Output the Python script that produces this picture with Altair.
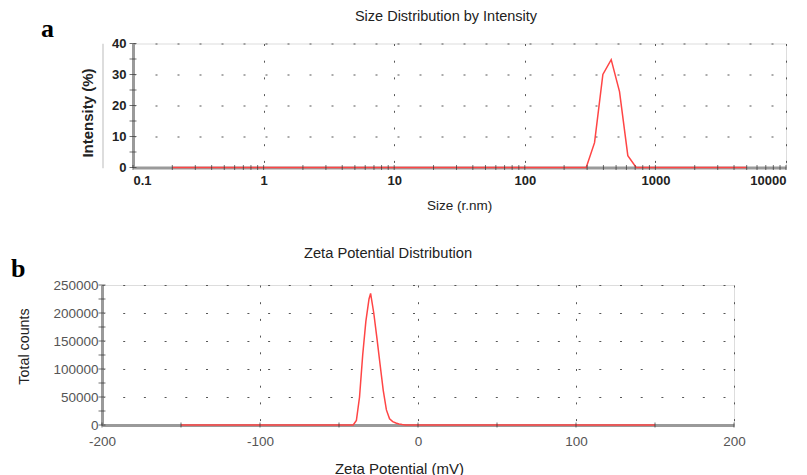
import altair as alt
import pandas as pd

# ---------------- Panel a: size distribution by intensity ----------------
size_nm = [0.2, 295.3, 342.0, 396.1, 458.7, 531.2, 615.1, 712.4, 5000]
intensity_pct = [0, 0, 8.0, 30.0, 34.8, 24.5, 3.8, 0, 0]
size_ticks = [0.1, 1, 10, 100, 1000, 10000]
size_decades = [0.1, 1, 10, 100, 1000]
size_minor_mult = [2, 3, 4, 5, 6, 7, 8, 9]
intensity_ticks = [0, 10, 20, 30, 40]
intensity_minor = [5, 15, 25, 35]

# ---------------- Panel b: zeta potential distribution ----------------
zeta_mv = [-150, -41, -39, -37, -35, -33, -31, -30, -28, -26, -24, -22,
           -20, -18, -16, -14, -12, -10, -8, 150]
total_counts = [0, 0, 8000, 50000, 125000, 185000, 225000, 235000, 200000,
                155000, 108000, 62000, 27000, 11000, 6000, 3500, 1800, 800, 0, 0]
zeta_ticks = [-200, -100, 0, 100, 200]
zeta_minor = [-150, -50, 50, 150]
count_ticks = [0, 50000, 100000, 150000, 200000, 250000]
count_minor = [25000, 75000, 125000, 175000, 225000]

FONT = "Liberation Sans"
SERIF = "Liberation Serif"
RED = "#ff4545"
W_A, H_A = 653, 124
W_B, H_B = 632, 140

COMMON = dict(ticks=False, tickSize=0, labelOverlap=False,
              domainColor="#9a9a9a", domainWidth=3,
              grid=True, gridColor="#444", gridWidth=1, gridOpacity=0.9,
              titleAlign="center", titleFont=FONT, labelFont=FONT)


def text_layer(label, x, y, size, font=FONT, weight="normal", align="left", color="#222"):
    return alt.Chart(pd.DataFrame({"label": [label]})).mark_text(
        font=font, fontSize=size, fontWeight=weight, align=align,
        baseline="alphabetic", color=color
    ).encode(text="label:N", x=alt.value(x), y=alt.value(y))


# ---------- panel a ----------
xa = alt.Scale(type="log", domain=[0.1, 10000])
ya = alt.Scale(domain=[0, 40])
ax_xa = alt.Axis(values=size_ticks, format="~g", title="Size (r.nm)", labelFlush=12,
                 titleX=326, titleY=38, titleBaseline="middle",
                 titleFontSize=13.5, titleFontWeight="normal",
                 titleColor="#222", labelFontSize=13, labelFontWeight="bold",
                 labelColor="#222", labelPadding=7, gridDash=[2, 14.7], **COMMON)
ax_ya = alt.Axis(values=intensity_ticks, title="Intensity (%)", labelFlush=False,
                 titleX=-46, titleY=69, titleBaseline="middle",
                 titleFontSize=15, titleFontWeight="bold",
                 titleColor="#222", labelFontSize=13, labelFontWeight="bold",
                 labelColor="#222", labelPadding=7, gridDash=[2, 20], **COMMON)

df_a = pd.DataFrame({"size": size_nm, "intensity": intensity_pct})
line_a = alt.Chart(df_a).mark_line(color=RED, strokeWidth=1.5).encode(
    x=alt.X("size:Q", scale=xa, axis=ax_xa),
    y=alt.Y("intensity:Q", scale=ya, axis=ax_ya),
)

a_minor_x = [d * m for d in size_decades for m in size_minor_mult]
xt_a = alt.Chart(pd.DataFrame({"size": a_minor_x + size_ticks})).mark_tick(
    orient="vertical", size=5, thickness=1, color="#333"
).encode(x=alt.X("size:Q", scale=xa, axis=ax_xa), y=alt.value(H_A))

yt_a = alt.Chart(pd.DataFrame({"intensity": intensity_ticks + intensity_minor})).mark_tick(
    orient="horizontal", size=7, thickness=1, color="#333"
).encode(y=alt.Y("intensity:Q", scale=ya, axis=ax_ya), x=alt.value(0))

panel_a = alt.layer(
    line_a, xt_a, yt_a,
    text_layer("Size Distribution by Intensity", 313, -23, 14.5, align="center"),
    text_layer("a", -92, -7, 26, font=SERIF, weight="bold", color="#000"),
).properties(width=W_A, height=H_A)

# invisible 1px spacer so that panel a's plot starts 31px right of panel b's
spacer = alt.Chart(pd.DataFrame({"label": [""]})).mark_text(opacity=0).encode(
    text="label:N", x=alt.value(0), y=alt.value(0)
).properties(width=1, height=H_A)

top_row = alt.hconcat(spacer, panel_a, spacing=30, bounds="flush")

# ---------- panel b ----------
xb = alt.Scale(domain=[-200, 200])
yb = alt.Scale(domain=[0, 250000])
ax_xb = alt.Axis(values=zeta_ticks, title="Zeta Potential (mV)", labelFlush=False,
                 labelExpr="datum.value < 0 ? '-' + abs(datum.value) : '' + datum.value",
                 titleX=297, titleY=48, titleBaseline="alphabetic",
                 titleFontSize=15, titleFontWeight="normal",
                 titleColor="#222", labelFontSize=13.5, labelFontWeight="normal",
                 labelColor="#555", labelPadding=9, gridDash=[2, 14.7], **COMMON)
ax_yb = alt.Axis(values=count_ticks, format="d", title="Total counts", labelFlush=False,
                 titleX=-77.5, titleY=61, titleBaseline="middle",
                 titleFontSize=14.3, titleFontWeight="normal",
                 titleColor="#222", labelFontSize=13.5, labelFontWeight="normal",
                 labelColor="#555", labelPadding=4, gridDash=[2, 18.7], **COMMON)

df_b = pd.DataFrame({"zeta": zeta_mv, "counts": total_counts})
line_b = alt.Chart(df_b).mark_line(color=RED, strokeWidth=1.5).encode(
    x=alt.X("zeta:Q", scale=xb, axis=ax_xb),
    y=alt.Y("counts:Q", scale=yb, axis=ax_yb),
)

xt_b = alt.Chart(pd.DataFrame({"zeta": zeta_ticks + zeta_minor})).mark_tick(
    orient="vertical", size=5, thickness=1, color="#333"
).encode(x=alt.X("zeta:Q", scale=xb, axis=ax_xb), y=alt.value(H_B))

yt_b = alt.Chart(pd.DataFrame({"counts": count_ticks + count_minor})).mark_tick(
    orient="horizontal", size=7, thickness=1, color="#333"
).encode(y=alt.Y("counts:Q", scale=yb, axis=ax_yb), x=alt.value(0))

panel_b = alt.layer(
    line_b, xt_b, yt_b,
    text_layer("Zeta Potential Distribution", 286, -27, 14.7, align="center"),
    text_layer("b", -91, -8, 26, font=SERIF, weight="bold", color="#000"),
).properties(width=W_B, height=H_B)

chart = alt.vconcat(top_row, panel_b, spacing=32.5).properties(
    padding={"left": 2, "top": -0.5, "right": 0, "bottom": 0}
).configure_view(strokeWidth=0).configure(background="white")

chart.save("out.html", embed_options={"renderer": "svg", "actions": False})
